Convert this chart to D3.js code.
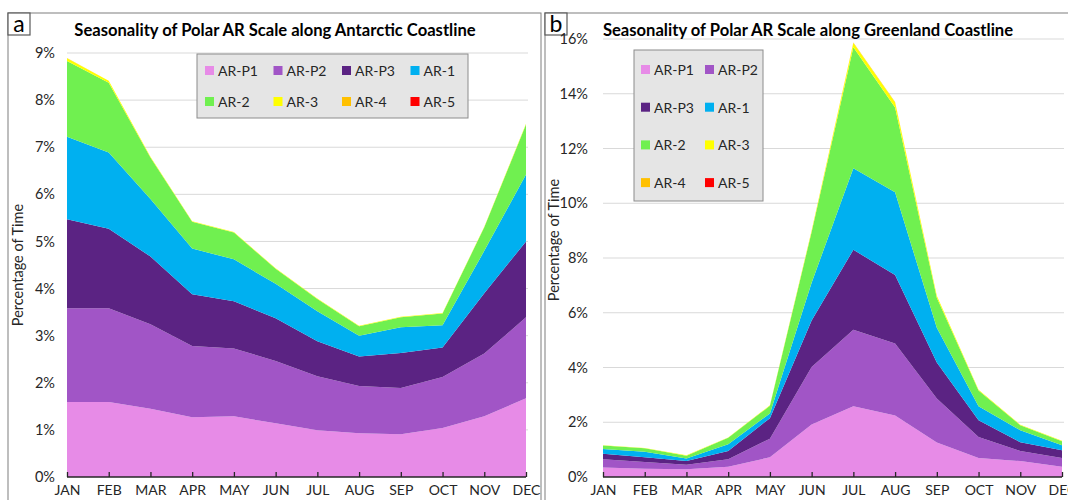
<!DOCTYPE html>
<html><head><meta charset="utf-8">
<script src="https://cdn.jsdelivr.net/npm/d3@7"></script>
<style>body{margin:0;background:#fff;}svg{display:block;font-family:Lato,"Open Sans",sans-serif;}</style>
</head><body>
<svg id="c" width="1068" height="500"></svg>
<script>
const months = ["JAN","FEB","MAR","APR","MAY","JUN","JUL","AUG","SEP","OCT","NOV","DEC"];
const seriesNames = ["AR-P1","AR-P2","AR-P3","AR-1","AR-2","AR-3","AR-4","AR-5"];
const seriesColors = ["#e78be7","#a155c6","#5b2383","#00b0f0","#70f050","#ffff00","#ffc000","#ff0000"];

// Antarctic (%), per category
const antP1 = [1.59,1.59,1.45,1.27,1.29,1.14,0.99,0.93,0.91,1.04,1.29,1.67];
const antP2 = [1.99,1.99,1.79,1.51,1.44,1.32,1.15,1.00,0.98,1.08,1.33,1.72];
const antP3 = [1.89,1.69,1.44,1.10,1.00,0.91,0.74,0.63,0.74,0.63,1.28,1.61];
const ant1  = [1.75,1.62,1.22,0.97,0.89,0.73,0.64,0.44,0.55,0.47,0.90,1.42];
const ant2  = [1.61,1.48,0.88,0.57,0.57,0.32,0.26,0.20,0.21,0.25,0.50,1.06];
const ant3  = [0.06,0.04,0.02,0.01,0.01,0.01,0.01,0.01,0.01,0.01,0.01,0.02];
const ant4  = [0.005,0,0,0,0,0,0,0,0,0,0,0];
const ant5  = [0,0,0,0,0,0,0,0,0,0,0,0];

// Greenland (%)
const grnP1 = [0.35,0.30,0.28,0.37,0.72,1.92,2.58,2.25,1.26,0.69,0.58,0.37];
const grnP2 = [0.30,0.25,0.17,0.28,0.68,2.10,2.80,2.63,1.61,0.77,0.37,0.32];
const grnP3 = [0.20,0.17,0.13,0.30,0.75,1.70,2.92,2.50,1.31,0.61,0.32,0.29];
const grn1  = [0.17,0.20,0.10,0.25,0.17,1.38,2.98,3.02,1.27,0.51,0.44,0.18];
const grn2  = [0.13,0.13,0.10,0.23,0.28,1.85,4.42,3.10,1.10,0.58,0.18,0.15];
const grn3  = [0.01,0.01,0.01,0.01,0.02,0.05,0.15,0.18,0.07,0.03,0.02,0.01];
const grn4  = [0,0,0,0,0,0.005,0.02,0.02,0.005,0,0,0];
const grn5  = [0,0,0,0,0,0,0,0,0,0,0,0];

const antTicks = [0,1,2,3,4,5,6,7,8,9];
const grnTicks = [0,2,4,6,8,10,12,14,16];

const svg = d3.select("#c");

function table(arrs){
  return months.map((m,i)=>{const o={m}; seriesNames.forEach((k,j)=>o[k]=arrs[j][i]); return o;});
}

function panel(cfg){
  const g = svg.append("g");
  // frame
  g.append("rect").attr("x",cfg.fx).attr("y",13).attr("width",cfg.fw).attr("height",500)
    .attr("fill","none").attr("stroke","#7f7f7f").attr("stroke-width",1);
  g.append("rect").attr("x",cfg.fx).attr("y",13).attr("width",22).attr("height",22)
    .attr("fill","#fff").attr("stroke","#595959").attr("stroke-width",1.2);
  g.append("text").attr("x",cfg.fx+11).attr("y",32).attr("text-anchor","middle")
    .attr("font-size",23).attr("fill","#000").text(cfg.letter);

  const x = d3.scalePoint().domain(months).range([cfg.x0,cfg.x1]);
  const y = d3.scaleLinear().domain([0,cfg.max]).range([477,cfg.ytop]);

  // grid
  g.append("g").selectAll("line").data(cfg.ticks.filter(t=>t>0)).join("line")
    .attr("x1",cfg.x0).attr("x2",cfg.x1+2).attr("y1",d=>y(d)).attr("y2",d=>y(d))
    .attr("stroke","#d9d9d9").attr("stroke-width",1);

  // stacked areas
  const data = table(cfg.arrs);
  const stack = d3.stack().keys(seriesNames)(data);
  const area = d3.area().x(d=>x(d.data.m)).y0(d=>y(d[0])).y1(d=>y(d[1]));
  g.append("g").selectAll("path").data(stack).join("path")
    .attr("d",area).attr("fill",(d,i)=>seriesColors[i]);

  // y axis labels
  const ya = d3.axisLeft(y).tickValues(cfg.ticks).tickFormat(d=>d+"%").tickSize(0).tickPadding(0);
  const yg = g.append("g").attr("transform",`translate(${cfg.ylx},0)`).call(ya);
  yg.select(".domain").remove();
  yg.selectAll("text").attr("font-size",14.5).attr("fill","#262626").attr("font-family","Lato,sans-serif");

  // x axis
  const xa = d3.axisBottom(x).tickSize(-5).tickPadding(8);
  const xg = g.append("g").attr("transform","translate(0,477)").call(xa);
  xg.select(".domain").attr("stroke","#262626").attr("stroke-width",1.5).attr("d",`M${cfg.x0},0H${cfg.x1}`);
  xg.selectAll(".tick line").attr("stroke","#262626").attr("stroke-width",1.3);
  xg.selectAll("text").attr("font-size",14).attr("fill","#262626").attr("font-family","Lato,sans-serif");

  // y title
  g.append("text").attr("transform",`translate(${cfg.ytx},${cfg.yty}) rotate(-90)`)
    .attr("text-anchor","middle").attr("font-size",14.5).attr("fill","#262626").text("Percentage of Time");

  // title
  g.append("text").attr("x",cfg.tx).attr("y",36).attr("text-anchor","middle")
    .attr("font-size",16.6).attr("font-weight","bold").attr("fill","#000").text(cfg.title);

  // legend
  const lg = g.append("g");
  lg.append("rect").attr("x",cfg.lx).attr("y",cfg.ly).attr("width",cfg.lw).attr("height",cfg.lh)
    .attr("fill","#e5e5e5").attr("stroke","#8c8c8c").attr("stroke-width",1);
  seriesNames.forEach((n,i)=>{
    const c = i%cfg.cols, r = Math.floor(i/cfg.cols);
    const ix = cfg.lx+cfg.lpad+c*cfg.cw, iy = cfg.ly+cfg.rpad+r*cfg.rh;
    lg.append("rect").attr("x",ix).attr("y",iy-5).attr("width",9).attr("height",9).attr("fill",seriesColors[i]);
    lg.append("text").attr("x",ix+13).attr("y",iy+5).attr("font-size",14).attr("fill","#262626").text(n);
  });
}

panel({letter:"a",fx:8,fw:533,x0:67,x1:526,ytop:53,max:9,ticks:antTicks,ylx:55,ytx:23,yty:265,
  tx:275,title:"Seasonality of Polar AR Scale along Antarctic Coastline",
  arrs:[antP1,antP2,antP3,ant1,ant2,ant3,ant4,ant5],
  lx:197,ly:54,lw:271,lh:64,cols:4,cw:68.5,rh:31,lpad:8,rpad:17});

panel({letter:"b",fx:545,fw:530,x0:603,x1:1062,ytop:39,max:16,ticks:grnTicks,ylx:588,ytx:559,yty:240,
  tx:808,title:"Seasonality of Polar AR Scale along Greenland Coastline",
  arrs:[grnP1,grnP2,grnP3,grn1,grn2,grn3,grn4,grn5],
  lx:634,ly:50,lw:129,lh:151,cols:2,cw:64,rh:37.7,lpad:7,rpad:20});
</script>
</body></html>
